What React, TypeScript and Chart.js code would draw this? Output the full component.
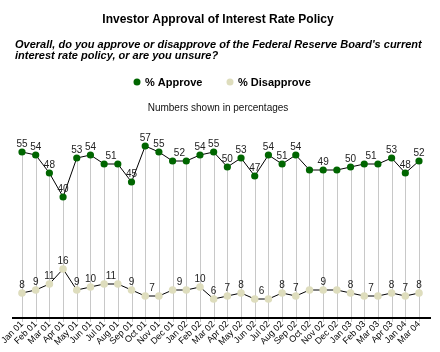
import React, { useEffect, useRef } from "react";
import { Chart, registerables } from "chart.js";

Chart.register(...registerables);

const months = [
  "Jan 01", "Feb 01", "Mar 01", "Apr 01", "May 01", "Jun 01", "Jul 01", "Aug 01", "Sep 01", "Oct 01", "Nov 01", "Dec 01",
  "Jan 02", "Feb 02", "Mar 02", "Apr 02", "May 02", "Jun 02", "Jul 02", "Aug 02", "Sep 02", "Oct 02", "Nov 02", "Dec 02",
  "Jan 03", "Feb 03", "Mar 03", "Apr 03", "Jan 04", "Mar 04",
];
const approve = [55, 54, 48, 40, 53, 54, 51, 51, 45, 57, 55, 52, 52, 54, 55, 50, 53, 47, 54, 51, 54, 49, 49, 49, 50, 51, 51, 53, 48, 52];
const disapprove = [8, 9, 11, 16, 9, 10, 11, 11, 9, 7, 7, 9, 9, 10, 6, 7, 8, 6, 6, 8, 7, 9, 9, 9, 8, 7, 7, 8, 7, 8];
const seriesNames = ["% Approve", "% Disapprove"];
const seriesColors = ["#006600", "#DEDDBD"];
const titleText = "Investor Approval of Interest Rate Policy";
const questionLines = [
  "Overall, do you approve or disapprove of the Federal Reserve Board's current",
  "interest rate policy, or are you unsure?",
];
const noteText = "Numbers shown in percentages";

const FONT = "Arial, 'Liberation Sans', sans-serif";

const headerPlugin = {
  id: "header",
  afterDraw(chart: any) {
    const ctx = chart.ctx;
    ctx.save();
    ctx.fillStyle = "#000";
    ctx.textBaseline = "alphabetic";
    ctx.textAlign = "center";
    ctx.font = `bold 12px ${FONT}`;
    ctx.fillText(titleText, 218, 23);
    ctx.textAlign = "left";
    ctx.font = `italic bold 11px ${FONT}`;
    questionLines.forEach((l, i) => ctx.fillText(l, 15, 48 + i * 11));
    // legend
    ctx.font = `bold 11px ${FONT}`;
    const legendX = [137, 230];
    seriesNames.forEach((name, i) => {
      ctx.beginPath();
      ctx.fillStyle = seriesColors[i];
      ctx.arc(legendX[i], 82, 3.5, 0, Math.PI * 2);
      ctx.fill();
      ctx.fillStyle = "#000";
      ctx.fillText(name, legendX[i] + 8, 86);
    });
    ctx.textAlign = "center";
    ctx.font = `10px ${FONT}`;
    ctx.fillStyle = "#111";
    ctx.fillText(noteText, 218, 111);
    ctx.restore();
  },
};

const dropLinesPlugin = {
  id: "dropLines",
  beforeDatasetsDraw(chart: any) {
    const ctx = chart.ctx;
    const area = chart.chartArea;
    const meta = chart.getDatasetMeta(0);
    ctx.save();
    ctx.strokeStyle = "#C8C8C8";
    ctx.lineWidth = 1;
    meta.data.forEach((p: any) => {
      const x = Math.round(p.x) + 0.5;
      ctx.beginPath();
      ctx.moveTo(x, p.y);
      ctx.lineTo(x, area.bottom + 5);
      ctx.stroke();
    });
    ctx.strokeStyle = "#000";
    ctx.lineWidth = 2;
    ctx.beginPath();
    ctx.moveTo(area.left - 10, area.bottom + 1);
    ctx.lineTo(area.right + 12, area.bottom + 1);
    ctx.stroke();
    ctx.restore();
  },
};

const valueLabelsPlugin = {
  id: "valueLabels",
  afterDatasetsDraw(chart: any) {
    const ctx = chart.ctx;
    ctx.save();
    ctx.font = `10px ${FONT}`;
    ctx.fillStyle = "#222";
    ctx.textAlign = "center";
    ctx.textBaseline = "alphabetic";
    chart.data.datasets.forEach((ds: any, di: number) => {
      const meta = chart.getDatasetMeta(di);
      const vals = ds.data as number[];
      let i = 0;
      while (i < vals.length) {
        let j = i;
        while (j + 1 < vals.length && vals[j + 1] === vals[i]) j++;
        const x = (meta.data[i].x + meta.data[j].x) / 2;
        const y = meta.data[i].y;
        ctx.fillText(String(vals[i]), x, y - 5);
        i = j + 1;
      }
    });
    ctx.restore();
  },
};

export default function App() {
  const ref = useRef<HTMLCanvasElement | null>(null);
  useEffect(() => {
    document.body.style.margin = "0";
    const canvas = ref.current;
    if (!canvas) return;
    const chart = new Chart(canvas, {
      type: "line",
      data: {
        labels: months,
        datasets: [
          {
            label: seriesNames[0],
            data: approve,
            borderColor: "#000",
            borderWidth: 1,
            pointBackgroundColor: seriesColors[0],
            pointBorderWidth: 0,
            pointRadius: 3.6,
            tension: 0,
          },
          {
            label: seriesNames[1],
            data: disapprove,
            borderColor: "#000",
            borderWidth: 1,
            pointBackgroundColor: seriesColors[1],
            pointBorderWidth: 0,
            pointRadius: 3.8,
            tension: 0,
          },
        ],
      },
      options: {
        responsive: false,
        animation: false,
        devicePixelRatio: 1,
        layout: { padding: { top: 137, left: 22, right: 21, bottom: 0 }, autoPadding: false },
        plugins: { legend: { display: false }, title: { display: false }, tooltip: { enabled: false } },
        scales: {
          x: {
            type: "category",
            offset: false,
            grid: { display: false, drawTicks: false },
            border: { display: false },
            ticks: {
              autoSkip: false,
              maxRotation: 45,
              minRotation: 45,
              padding: 2,
              color: "#000",
              font: { family: FONT, size: 9 },
            },
            afterFit: (s: any) => {
              s.height = 35;
            },
          },
          y: { display: false, min: 0, max: 60 },
        },
      },
      plugins: [headerPlugin, dropLinesPlugin, valueLabelsPlugin],
    });
    return () => chart.destroy();
  }, []);
  return (
    <div style={{ width: 440, height: 352, background: "#fff" }}>
      <canvas ref={ref} width={440} height={352} style={{ display: "block" }} />
    </div>
  );
}
